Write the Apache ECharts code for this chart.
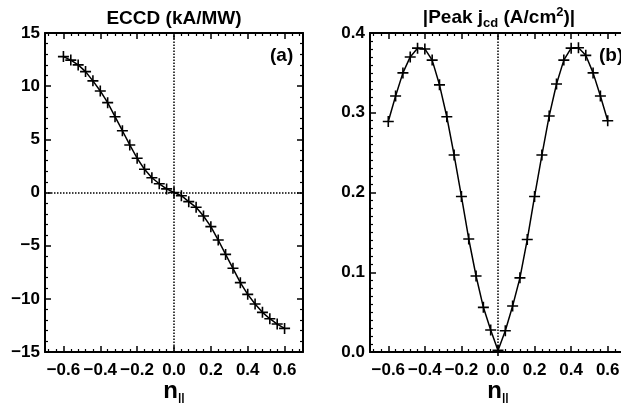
<!DOCTYPE html>
<html>
<head>
<meta charset="utf-8">
<script src="https://cdn.jsdelivr.net/npm/echarts@6/dist/echarts.min.js"></script>
<style>
  html, body { margin: 0; padding: 0; background: #fff; }
  #main { width: 621px; height: 403px; }
</style>
</head>
<body>
<div id="main"></div>
<script>
// n_parallel values (x)
var nPar = [-0.60, -0.56, -0.52, -0.48, -0.44, -0.40, -0.36, -0.32, -0.28, -0.24, -0.20,
            -0.16, -0.12, -0.08, -0.04, 0.00, 0.04, 0.08, 0.12, 0.16, 0.20,
            0.24, 0.28, 0.32, 0.36, 0.40, 0.44, 0.48, 0.52, 0.56, 0.60];
// panel (a): ECCD (kA/MW)
var eccd = [12.78, 12.45, 12.0, 11.37, 10.5, 9.55, 8.45, 7.13, 5.81, 4.47, 3.22,
            2.18, 1.39, 0.82, 0.34, 0.0, -0.30, -0.86, -1.39, -2.21, -3.21,
            -4.47, -5.82, -7.13, -8.48, -9.58, -10.49, -11.27, -11.87, -12.37, -12.78];
// panel (b): |Peak jcd (A/cm2)|
var peakJ = [0.289, 0.321, 0.350, 0.370, 0.381, 0.380, 0.366, 0.335, 0.295, 0.247, 0.195,
             0.1417, 0.0953, 0.056, 0.0276, 0.002, 0.0267, 0.0577, 0.093, 0.141, 0.195,
             0.247, 0.296, 0.336, 0.366, 0.381, 0.3815, 0.372, 0.350, 0.321, 0.290];

var xMajor = [-0.6, -0.4, -0.2, 0.0, 0.2, 0.4, 0.6];
var xMinor = [-0.68, -0.64, -0.56, -0.52, -0.48, -0.44, -0.36, -0.32, -0.28, -0.24,
              -0.16, -0.12, -0.08, -0.04, 0.04, 0.08, 0.12, 0.16, 0.24, 0.28,
              0.32, 0.36, 0.44, 0.48, 0.52, 0.56, 0.64, 0.68];

var FONT = '"Liberation Sans", Arial, sans-serif';
var black = '#000';

function minus(s) { return String(s).replace('-', '\u2212'); }

var labelStyle = {
  color: black, fontFamily: FONT, fontWeight: 'bold', fontSize: 17
};

function xAxes(gi) {
  var base = {
    gridIndex: gi, type: 'value', min: -0.7, max: 0.7,
    splitLine: { show: false }
  };
  return [
    Object.assign({}, base, {
      position: 'bottom',
      axisLine: { onZero: false, lineStyle: { color: black, width: 2 } },
      axisTick: { inside: true, length: 6, customValues: xMajor, lineStyle: { color: black, width: 1.5 } },
      axisLabel: Object.assign({ customValues: xMajor, margin: 10,
        formatter: function (v) { return minus(v.toFixed(1)); } }, labelStyle),
      name: 'n{s|||}',
      nameLocation: 'middle',
      nameGap: 25,
      nameMoveOverlap: false,
      nameTextStyle: {
        color: black, fontFamily: FONT, fontWeight: 'bold', fontSize: 24, lineHeight: 28,
        rich: { s: { color: black, fontFamily: FONT, fontWeight: 'bold', fontSize: 12, lineHeight: 12, verticalAlign: 'bottom' } }
      }
    }),
    Object.assign({}, base, {
      position: 'bottom',
      axisLine: { show: false, onZero: false },
      axisTick: { inside: true, length: 3, customValues: xMinor, lineStyle: { color: black, width: 1.2 } },
      axisLabel: { show: false }
    }),
    Object.assign({}, base, {
      position: 'top',
      axisLine: { onZero: false, lineStyle: { color: black, width: 2 } },
      axisTick: { inside: true, length: 6, customValues: xMajor, lineStyle: { color: black, width: 1.5 } },
      axisLabel: { show: false }
    }),
    Object.assign({}, base, {
      position: 'top',
      axisLine: { show: false, onZero: false },
      axisTick: { inside: true, length: 3, customValues: xMinor, lineStyle: { color: black, width: 1.2 } },
      axisLabel: { show: false }
    })
  ];
}

function yAxes(gi, min, max, interval, minorSplit, fmt, showRight) {
  var base = {
    gridIndex: gi, type: 'value', min: min, max: max, interval: interval,
    splitLine: { show: false },
    axisLine: { onZero: false, lineStyle: { color: black, width: 2 } },
    axisTick: { inside: true, length: 6, lineStyle: { color: black, width: 1.5 } },
    minorTick: { show: true, splitNumber: minorSplit, length: 3, lineStyle: { color: black, width: 1.2 } }
  };
  return [
    Object.assign({}, base, {
      position: 'left',
      axisLabel: Object.assign({ margin: 5, formatter: fmt }, labelStyle)
    }),
    Object.assign({}, base, {
      position: 'right',
      show: showRight,
      axisLabel: { show: false }
    })
  ];
}

function dotted(marks) {
  return {
    silent: true, symbol: 'none', animation: false,
    label: { show: false },
    lineStyle: { color: black, type: 'dotted', width: 1.5 },
    data: marks
  };
}

var plus = 'path://M0,5L10,5M5,0L5,10';

function pairs(xs, ys) {
  var out = [];
  for (var i = 0; i < xs.length; i++) out.push([xs[i], ys[i]]);
  return out;
}

function lineSeries(xi, yi, data, marks) {
  return {
    type: 'line', xAxisIndex: xi, yAxisIndex: yi, data: data,
    symbol: plus, symbolSize: 11, showAllSymbol: true,
    itemStyle: { color: black, borderColor: black, borderWidth: 1.6 },
    lineStyle: { color: black, width: 1.5 },
    emphasis: { disabled: true },
    markLine: dotted(marks),
    z: 3
  };
}

var chart = echarts.init(document.getElementById('main'), null, { renderer: 'canvas' });

var titleStyle = {
  color: black, fontFamily: FONT, fontWeight: 'bold', fontSize: 19, lineHeight: 24,
  rich: {
    sub: { color: black, fontFamily: FONT, fontWeight: 'bold', fontSize: 13, lineHeight: 13, verticalAlign: 'bottom' },
    sup: { color: black, fontFamily: FONT, fontWeight: 'bold', fontSize: 13, lineHeight: 13, verticalAlign: 'top' }
  }
};

chart.setOption({
  animation: false,
  backgroundColor: '#fff',
  title: [
    { text: 'ECCD (kA/MW)', left: 174, top: 7, textAlign: 'center', padding: 0, textStyle: titleStyle },
    { text: '|Peak j{sub|cd} (A/cm{sup|2})|', left: 499, top: 6, textAlign: 'center', padding: 0, textStyle: titleStyle }
  ],
  grid: [
    { left: 45, top: 33, width: 258, height: 319, outerBoundsMode: 'none', containLabel: false },
    { left: 370, top: 33, width: 256, height: 319, outerBoundsMode: 'none', containLabel: false }
  ],
  xAxis: xAxes(0).concat(xAxes(1)),
  yAxis: yAxes(0, -15, 15, 5, 5, function (v) { return minus(v); }, true)
    .concat(yAxes(1, 0, 0.4, 0.1, 10, function (v) { return v.toFixed(1); }, false)),
  graphic: [
    { type: 'text', left: 270, top: 46, style: { text: '(a)', fill: black, font: 'bold 19px ' + FONT } },
    { type: 'text', left: 599, top: 46, style: { text: '(b)', fill: black, font: 'bold 19px ' + FONT } }
  ],
  series: [
    lineSeries(0, 0, pairs(nPar, eccd), [{ xAxis: 0 }, { yAxis: 0 }]),
    lineSeries(4, 2, pairs(nPar, peakJ), [{ xAxis: 0 }])
  ]
});
</script>
</body>
</html>
